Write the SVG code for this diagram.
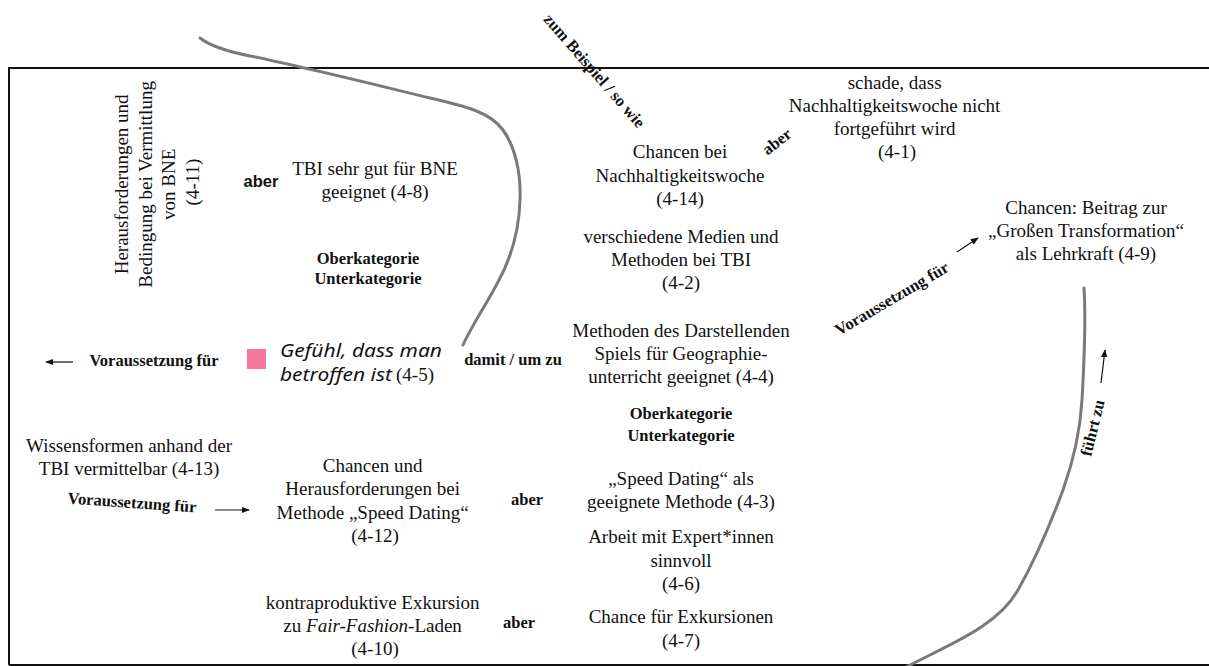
<svg xmlns="http://www.w3.org/2000/svg" width="1209" height="666" viewBox="0 0 1209 666">
  <style>
    .t { font-family: "Liberation Serif", "Times New Roman", serif; font-size: 19px; fill: #111; text-anchor: middle; }
    .b { font-family: "Liberation Serif", "Times New Roman", serif; font-size: 16.5px; font-weight: bold; fill: #111; text-anchor: middle; }
    .cat { font-family: "Liberation Serif", "Times New Roman", serif; font-size: 16.5px; font-weight: bold; fill: #111; text-anchor: middle; }
    .bs { font-family: "Liberation Sans", Arial, sans-serif; font-size: 16.5px; font-weight: bold; fill: #111; text-anchor: middle; }
    .hand { font-family: "Noto Sans", sans-serif; font-style: italic; font-size: 18px; fill: #111; }
    .curve { fill: none; stroke: #7a7a7a; stroke-width: 3; stroke-linecap: round; }
    .arrow { fill: none; stroke: #111; stroke-width: 1.2; marker-end: url(#head); }
  </style>
  <defs>
    <marker id="head" viewBox="0 0 10 10" refX="9" refY="5" markerWidth="8" markerHeight="8" markerUnits="userSpaceOnUse" orient="auto">
      <path d="M0,1 L10,5 L0,9 Z" fill="#111"/>
    </marker>
  </defs>

  <rect width="1209" height="666" fill="#ffffff"/>

  <!-- outer frame -->
  <path d="M9,665 L9,68 L1212,68 M9,665 L1212,665" fill="none" stroke="#111" stroke-width="2"/>

  <!-- hand-drawn separating curves -->
  <g id="curves">
    <path class="curve" d="M200,38 C210,46 225,51 250,56 C300,66 380,86 430,98 C465,106 490,112 503,130 C516,148 521,175 520,200 C519,235 510,260 498,282 C486,305 472,325 463,345"/>
    <path class="curve" d="M1084,288 C1086,320 1084,365 1082,400 C1080,435 1073,462 1063,490 C1050,525 1035,560 1018,590 C1000,622 960,640 930,655 L906,667"/>
  </g>

  <!-- connectors and relation labels -->
  <g id="connectors">
    <line class="arrow" x1="73" y1="362" x2="46" y2="362"/>
    <line class="arrow" x1="215" y1="510" x2="249" y2="510"/>
    <line class="arrow" x1="957" y1="252" x2="978" y2="238"/>
    <line class="arrow" x1="1101" y1="383" x2="1105" y2="350"/>

    <text class="bs" x="261" y="187">aber</text>
    <text class="b" x="154" y="366">Voraussetzung für</text>
    <text class="b" transform="translate(132,503) rotate(4)" y="5">Voraussetzung für</text>
    <text class="b" x="513" y="365">damit / um zu</text>
    <text class="b" x="527" y="505">aber</text>
    <text class="b" x="519" y="628">aber</text>
    <text class="b" transform="translate(594,71) rotate(49)" y="5">zum Beispiel / so wie</text>
    <text class="b" transform="translate(777,142) rotate(-38)" y="5">aber</text>
    <text class="b" transform="translate(892,299) rotate(-30.5)" y="5">Voraussetzung für</text>
    <text class="b" transform="translate(1093,428) rotate(-76)" y="5">führt zu</text>
  </g>

  <g id="n4-11">
    <text class="t" transform="translate(0,182) rotate(-90)">
      <tspan x="0" y="128">Herausforderungen und</tspan>
      <tspan x="0" y="151.7">Bedingung bei Vermittlung</tspan>
      <tspan x="0" y="175.4">von BNE</tspan>
      <tspan x="0" y="199">(4-11)</tspan>
    </text>
  </g>

  <g id="n4-8">
    <text class="t"><tspan x="375" y="175">TBI sehr gut für BNE</tspan><tspan x="375" y="198">geeignet (4-8)</tspan></text>
  </g>

  <g id="legend-left">
    <text class="cat"><tspan x="368" y="264">Oberkategorie</tspan><tspan x="368" y="284">Unterkategorie</tspan></text>
  </g>

  <g id="n4-5">
    <rect x="247" y="349" width="19" height="20" fill="#f6779b"/>
    <text class="hand" x="280" y="357" textLength="162" lengthAdjust="spacingAndGlyphs">Gefühl, dass man</text>
    <text class="hand" x="280" y="381" textLength="112" lengthAdjust="spacingAndGlyphs">betroffen ist</text>
    <text x="396" y="381" font-family="Liberation Serif, serif" font-size="19" fill="#111">(4-5)</text>
  </g>

  <g id="n4-13">
    <text class="t"><tspan x="129" y="452">Wissensformen anhand der</tspan><tspan x="129" y="475">TBI vermittelbar (4-13)</tspan></text>
  </g>

  <g id="n4-12">
    <text class="t">
      <tspan x="375" y="472">Chancen und</tspan>
      <tspan x="375" y="495">Herausforderungen bei</tspan>
      <tspan x="375" y="519">Methode „Speed Dating“</tspan>
      <tspan x="375" y="542">(4-12)</tspan>
    </text>
  </g>

  <g id="n4-10">
    <text class="t">
      <tspan x="375" y="609">kontraproduktive Exkursion</tspan>
      <tspan x="375" y="632">zu <tspan font-style="italic">Fair-Fashion</tspan>-Laden</tspan>
      <tspan x="375" y="655">(4-10)</tspan>
    </text>
  </g>

  <g id="n4-14">
    <text class="t"><tspan x="680" y="158">Chancen bei</tspan><tspan x="680" y="182">Nachhaltigkeitswoche</tspan><tspan x="680" y="205">(4-14)</tspan></text>
  </g>

  <g id="n4-2">
    <text class="t"><tspan x="681" y="243">verschiedene Medien und</tspan><tspan x="681" y="266">Methoden bei TBI</tspan><tspan x="681" y="289">(4-2)</tspan></text>
  </g>

  <g id="n4-4">
    <text class="t"><tspan x="681" y="337">Methoden des Darstellenden</tspan><tspan x="681" y="360">Spiels für Geographie-</tspan><tspan x="681" y="383">unterricht geeignet (4-4)</tspan></text>
  </g>

  <g id="legend-right">
    <text class="cat"><tspan x="681" y="419">Oberkategorie</tspan><tspan x="681" y="441">Unterkategorie</tspan></text>
  </g>

  <g id="n4-3">
    <text class="t"><tspan x="681" y="485">„Speed Dating“ als</tspan><tspan x="681" y="508">geeignete Methode (4-3)</tspan></text>
  </g>

  <g id="n4-6">
    <text class="t"><tspan x="681" y="543">Arbeit mit Expert*innen</tspan><tspan x="681" y="567">sinnvoll</tspan><tspan x="681" y="590">(4-6)</tspan></text>
  </g>

  <g id="n4-7">
    <text class="t"><tspan x="681" y="623">Chance für Exkursionen</tspan><tspan x="681" y="647">(4-7)</tspan></text>
  </g>

  <g id="n4-1">
    <text class="t">
      <tspan x="897" y="89">schade, dass</tspan>
      <tspan x="897" y="112">Nachhaltigkeitswoche nicht</tspan>
      <tspan x="897" y="135">fortgeführt wird</tspan>
      <tspan x="897" y="158">(4-1)</tspan>
    </text>
  </g>

  <g id="n4-9">
    <text class="t"><tspan x="1086" y="214">Chancen: Beitrag zur</tspan><tspan x="1086" y="237">„Großen Transformation“</tspan><tspan x="1086" y="260">als Lehrkraft (4-9)</tspan></text>
  </g>
</svg>
